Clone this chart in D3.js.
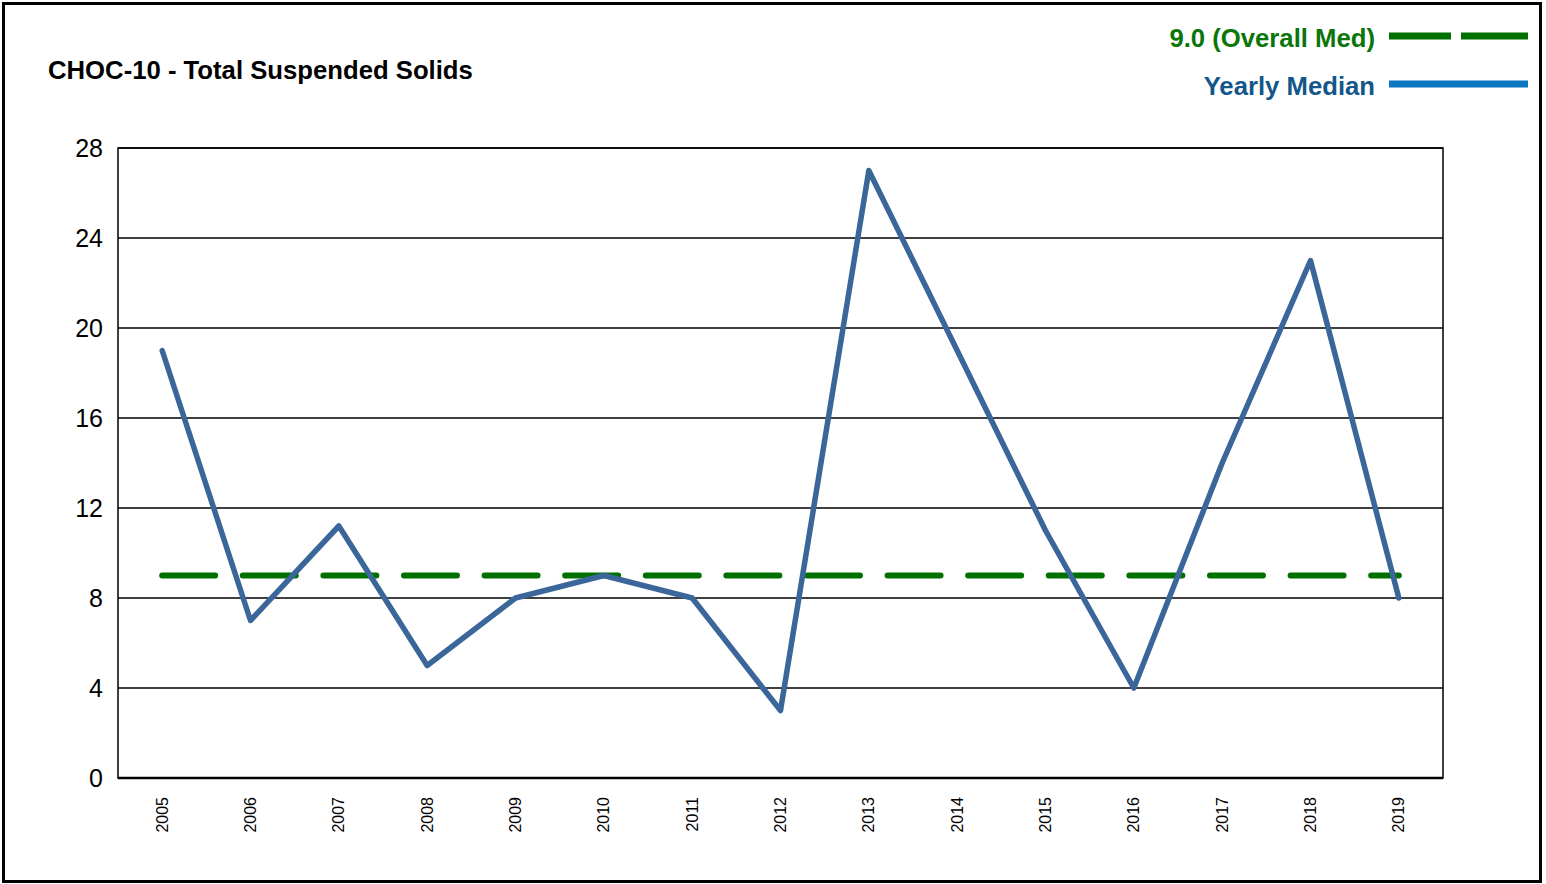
<!DOCTYPE html>
<html><head><meta charset="utf-8">
<script src="https://cdn.jsdelivr.net/npm/d3@7"></script>
<style>body{margin:0;background:#fff}svg{display:block;font-family:"Liberation Sans",Arial,sans-serif}</style>
</head><body>
<svg id="c" width="1546" height="884"></svg>
<script>
const years = ["2005","2006","2007","2008","2009","2010","2011","2012","2013","2014","2015","2016","2017","2018","2019"];
const yearlyMedian = [19,7,11.2,5,8,9,8,3,27,19,11,4,14,23,8];
const overallMedian = 9.0;
const yTicks = [0,4,8,12,16,20,24,28];
const title = "CHOC-10 - Total Suspended Solids";
const legendLabels = ["9.0 (Overall Med)","Yearly Median"];

const svg = d3.select("#c");
const L=118,R=1443,T=148,B=778;
const x = d3.scaleBand().domain(years).range([L,R]);
const y = d3.scaleLinear().domain([0,28]).range([B,T]);
const cx = d => x(d)+x.bandwidth()/2;

// outer border
svg.append("rect").attr("x",3.5).attr("y",3.5).attr("width",1537).attr("height",878)
  .attr("fill","none").attr("stroke","#000").attr("stroke-width",3);

svg.append("text").attr("x",48).attr("y",79).attr("font-size",25.7).attr("font-weight","bold")
  .attr("fill","#000").text(title);

// gridlines
svg.append("g").selectAll("line").data(yTicks.filter(t=>t>0)).join("line")
  .attr("x1",L).attr("x2",R).attr("y1",d=>y(d)).attr("y2",d=>y(d))
  .attr("stroke","#000").attr("stroke-width",1.5);

// plot frame
svg.append("rect").attr("x",L).attr("y",T).attr("width",R-L).attr("height",B-T)
  .attr("fill","none").attr("stroke","#000").attr("stroke-width",1.5);
svg.append("line").attr("x1",L).attr("x2",R).attr("y1",B).attr("y2",B).attr("stroke","#000").attr("stroke-width",2.5);

// y axis labels
const ya = svg.append("g").attr("transform",`translate(${L},0)`)
  .call(d3.axisLeft(y).tickValues(yTicks).tickSize(0).tickPadding(15).tickFormat(d3.format("d")));
ya.select(".domain").remove();
ya.selectAll("text").attr("font-size",25).attr("font-family","Liberation Sans, Arial, sans-serif").attr("fill","#000");

// x axis labels
const xa = svg.append("g").attr("transform",`translate(0,${B})`)
  .call(d3.axisBottom(x).tickSize(0));
xa.select(".domain").remove();
xa.selectAll("text").attr("font-size",16).attr("font-family","Liberation Sans, Arial, sans-serif").attr("fill","#000")
  .attr("transform","rotate(-90)").attr("text-anchor","end").attr("x",-19).attr("y",0).attr("dy","0.35em");

// overall median dashed
svg.append("line").attr("x1",cx(years[0])).attr("x2",cx(years[years.length-1]))
  .attr("y1",y(overallMedian)).attr("y2",y(overallMedian))
  .attr("stroke","#007000").attr("stroke-width",6).attr("stroke-dasharray","53,27.6").attr("stroke-linecap","round");

// yearly median line
svg.append("path").datum(yearlyMedian)
  .attr("d",d3.line().x((d,i)=>cx(years[i])).y(d=>y(d)))
  .attr("fill","none").attr("stroke","#3b6699").attr("stroke-width",5.5).attr("stroke-linejoin","round").attr("stroke-linecap","round");

// legend
const lg = svg.append("g");
lg.append("text").attr("x",1375).attr("y",47).attr("text-anchor","end").attr("font-size",25.7).attr("font-weight","bold")
  .attr("fill","#0a760a").text(legendLabels[0]);
lg.append("line").attr("x1",1389).attr("x2",1528).attr("y1",36).attr("y2",36)
  .attr("stroke","#007000").attr("stroke-width",7).attr("stroke-dasharray","62,10,67,0");
lg.append("text").attr("x",1375).attr("y",95).attr("text-anchor","end").attr("font-size",25.7).attr("font-weight","bold")
  .attr("fill","#13578a").text(legendLabels[1]);
lg.append("line").attr("x1",1389).attr("x2",1528).attr("y1",84).attr("y2",84)
  .attr("stroke","#0c76c2").attr("stroke-width",7);
</script>
</body></html>
